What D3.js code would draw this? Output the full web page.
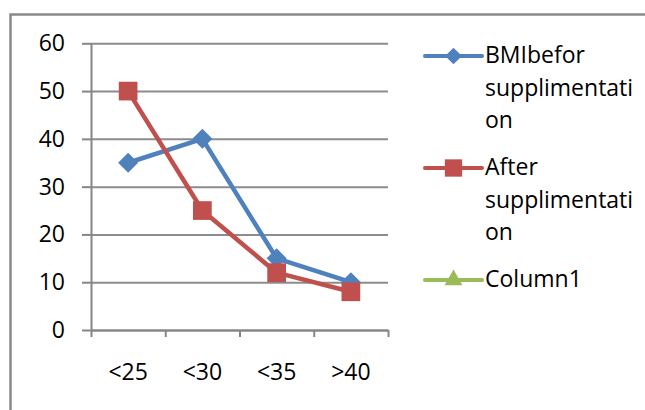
<!DOCTYPE html>
<html>
<head>
<meta charset="utf-8">
<script src="https://cdn.jsdelivr.net/npm/d3@7"></script>
<style>
  body { margin: 0; background: #fff; }
  svg text { font-family: "Open Sans", sans-serif; font-size: 23px; fill: #000; }
</style>
</head>
<body>
<div id="chart"></div>
<script>
// Chart values
const categories = ["<25", "<30", "<35", ">40"];
const bmiBefore = [35, 40, 15, 10];
const afterSupp = [50, 25, 12, 8];
const column1 = [];
const yTicks = [0, 10, 20, 30, 40, 50, 60];
const legendLabels = [
    ["BMIbefor", "supplimentati", "on"],
    ["After", "supplimentati", "on"],
    ["Column1"]
];

const W = 645, H = 410;
const plot = { left: 91, right: 388, top: 43.3, bottom: 330 };

let svg = d3.select("#chart")
    .append("svg")
    .attr("width", W)
    .attr("height", H);

// outer chart frame (cropped on right/bottom)
svg.append("rect")
    .attr("x", 10.5).attr("y", 14.5)
    .attr("width", W + 20).attr("height", H + 20)
    .attr("fill", "none")
    .attr("stroke", "#898989")
    .attr("stroke-width", 2.5);

let x = d3.scaleBand(categories, [plot.left, plot.right]);
let xEdges = d3.scaleLinear([0, categories.length], [plot.left, plot.right]);
let y = d3.scaleLinear([0, 60], [plot.bottom, plot.top]);

// gridlines
svg.append("g")
    .attr("transform", `translate(${plot.left},0)`)
    .call(d3.axisLeft(y).tickValues(yTicks).tickSize(-(plot.right - plot.left)).tickFormat(""))
    .call(g => g.select(".domain").remove())
    .call(g => g.selectAll("line").attr("stroke", "#8c8c8c").attr("stroke-width", 2));

// y axis
svg.append("g")
    .attr("transform", `translate(${plot.left},0)`)
    .call(d3.axisLeft(y).tickValues(yTicks).tickSize(9).tickSizeOuter(0).tickPadding(17))
    .call(g => g.select(".domain").attr("stroke", "#868686").attr("stroke-width", 2))
    .call(g => g.selectAll("line").attr("stroke", "#868686").attr("stroke-width", 2))
    .call(g => g.selectAll("text").attr("font-family", null).attr("font-size", null));

// x axis: tick marks on category boundaries
svg.append("g")
    .attr("transform", `translate(0,${plot.bottom})`)
    .call(d3.axisBottom(xEdges).tickValues(d3.range(categories.length + 1)).tickSize(7).tickSizeOuter(0).tickFormat(""))
    .call(g => g.select(".domain").attr("stroke", "#868686").attr("stroke-width", 2))
    .call(g => g.selectAll("line").attr("stroke", "#868686").attr("stroke-width", 2));

// x axis labels at category centres
svg.append("g")
    .attr("transform", `translate(0,${plot.bottom})`)
    .call(d3.axisBottom(x).tickSize(0).tickPadding(34))
    .call(g => g.select(".domain").remove())
    .call(g => g.selectAll("text").attr("font-family", null).attr("font-size", null));

const series = [
    { values: bmiBefore, color: "#4F81BD", symbol: d3.symbolSquare, size: 200, rotate: 45 },
    { values: afterSupp, color: "#C0504D", symbol: d3.symbolSquare, size: 350, rotate: 0 },
    { values: column1, color: "#9BBB59", symbol: d3.symbolTriangle, size: 150, rotate: 0 }
];

let line = d3.line()
    .x((d, i) => x(categories[i]) + x.bandwidth() / 2)
    .y(d => y(d));

series.forEach(s => {
    if (s.values.length === 0) return;
    svg.append("path")
        .datum(s.values)
        .attr("d", line)
        .attr("fill", "none")
        .attr("stroke", s.color)
        .attr("stroke-width", 4.5)
        .attr("stroke-linejoin", "round");

    svg.append("g")
        .selectAll("path")
        .data(s.values)
        .join("path")
        .attr("d", d3.symbol(s.symbol, s.size))
        .attr("transform", (d, i) =>
            `translate(${x(categories[i]) + x.bandwidth() / 2},${y(d)}) rotate(${s.rotate})`)
        .attr("fill", s.color);
});

// legend
const legendX = 425, lineLen = 57, textX = 485;
const firstBaseline = 63, lineStep = 32.5, entryStep = 112;

series.forEach((s, k) => {
    let base = firstBaseline + k * entryStep;
    let g = svg.append("g");
    g.append("line")
        .attr("x1", legendX).attr("x2", legendX + lineLen)
        .attr("y1", base - 7).attr("y2", base - 7)
        .attr("stroke", s.color)
        .attr("stroke-width", 4)
        .attr("stroke-linecap", "round");
    g.append("path")
        .attr("d", d3.symbol(s.symbol, s.symbol === d3.symbolSquare && s.rotate ? 140 : (s.symbol === d3.symbolTriangle ? 140 : 300)))
        .attr("transform", `translate(${legendX + lineLen / 2},${base - 7}) rotate(${s.rotate})`)
        .attr("fill", s.color);
    g.selectAll("text")
        .data(legendLabels[k])
        .join("text")
        .attr("x", textX)
        .attr("y", (d, i) => base + i * lineStep)
        .text(d => d);
});
</script>
</body>
</html>
